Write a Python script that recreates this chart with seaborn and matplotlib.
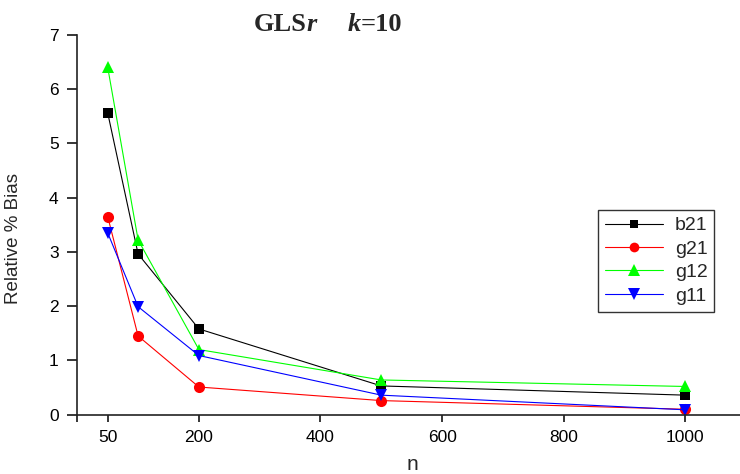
import matplotlib
matplotlib.use("Agg")
import matplotlib.pyplot as plt
import seaborn as sns
import pandas as pd
from matplotlib import font_manager

n_values = [50, 100, 200, 500, 1000]
b21 = [5.56, 2.96, 1.58, 0.53, 0.36]
g21 = [3.65, 1.45, 0.51, 0.26, 0.10]
g12 = [6.40, 3.22, 1.20, 0.64, 0.52]
g11 = [3.35, 1.99, 1.09, 0.36, 0.09]
series_names = ["b21", "g21", "g12", "g11"]
x_ticks = [0, 50, 200, 400, 600, 800, 1000]
x_tick_labels = ["", "50", "200", "400", "600", "800", "1000"]
y_ticks = [0, 1, 2, 3, 4, 5, 6, 7]

df = pd.DataFrame({
    "n": n_values * 4,
    "value": b21 + g21 + g12 + g11,
    "series": sum([[s] * len(n_values) for s in series_names], []),
})

sns.set_style("ticks")
plt.rcParams["font.family"] = ["Liberation Sans", "DejaVu Sans"]

fig = plt.figure(figsize=(7.4, 4.74), dpi=100)
W, H = 740, 474
ax = fig.add_axes([77.3 / W, 1 - 414.7 / H, (740 - 77.3) / W, (414.7 - 34.7) / H])

palette = {"b21": "#000000", "g21": "#ff0000", "g12": "#00ff00", "g11": "#0000ff"}
markers = {"b21": "s", "g21": "o", "g12": "^", "g11": "v"}
msize = {"s": 7, "o": 8, "^": 9, "v": 9}

sns.lineplot(data=df, x="n", y="value", hue="series", style="series",
             hue_order=series_names, style_order=series_names,
             palette=palette, markers=markers, dashes=False,
             linewidth=0.8, markersize=8, markeredgewidth=0, ax=ax)
for ln in ax.lines:
    m = ln.get_marker()
    if m in msize:
        ln.set_markersize(msize[m])

ax.set_xlim(0, 1090)
ax.set_ylim(0, 7)
ax.set_xticks(x_ticks)
ax.set_xticklabels(x_tick_labels)
ax.set_yticks(y_ticks)
ax.tick_params(axis="x", length=5, width=1.1, pad=6, labelsize=12.5, colors="black")
ax.tick_params(axis="y", length=7.5, width=1.1, pad=6, labelsize=12.5, colors="black")
for side in ["top", "right"]:
    ax.spines[side].set_visible(False)
for side in ["left", "bottom"]:
    ax.spines[side].set_linewidth(1.2)
    ax.spines[side].set_color("#222222")

narrow = "Liberation Sans Narrow"
avail = {f.name for f in font_manager.fontManager.ttflist}
if narrow in avail:
    ax.set_ylabel("Relative % Bias", fontsize=15, family=[narrow, "Liberation Sans"])
else:
    ax.set_ylabel("Relative % Bias", fontsize=13.5, family=["Liberation Sans"])
ax.yaxis.set_label_coords(-0.083, 0.465)
ax.set_xlabel("n", fontsize=15)
ax.xaxis.set_label_coords(0.505, -0.105)

sns.move_legend(ax, "upper left", bbox_to_anchor=(598 / W, 1 - 210 / H),
                bbox_transform=fig.transFigure, title=None, frameon=True,
                fancybox=False, fontsize=14, handlelength=3.0,
                edgecolor="black", borderpad=0.35, labelspacing=0.3,
                handletextpad=0.6, borderaxespad=0)
leg = ax.get_legend()
leg.get_frame().set_linewidth(1.0)
for h in leg.legend_handles:
    m = h.get_marker()
    if m in msize:
        h.set_markersize(msize[m] - 1)
    h.set_linewidth(0.8)

# Title pieces: GLS (bold), r (bold italic), k (bold italic), =10 (bold)
pieces = [("GLS", "normal", 0), ("r", "italic", 0), ("k", "italic", 30), ("=10", "normal", 0)]
fig.canvas.draw()
renderer = fig.canvas.get_renderer()
texts = []
x = 0.0
for s, style, gap in pieces:
    x += gap
    t = fig.text(x / W, 1 - 31 / H, s, family="Liberation Serif", weight="bold",
                 style=style, fontsize=19, va="baseline", ha="left")
    bb = t.get_window_extent(renderer)
    texts.append((t, x))
    x += bb.width
total = x
start = 328 - total / 2
for t, off in texts:
    t.set_x((start + off) / W)

fig.savefig("out.png", dpi=100)
